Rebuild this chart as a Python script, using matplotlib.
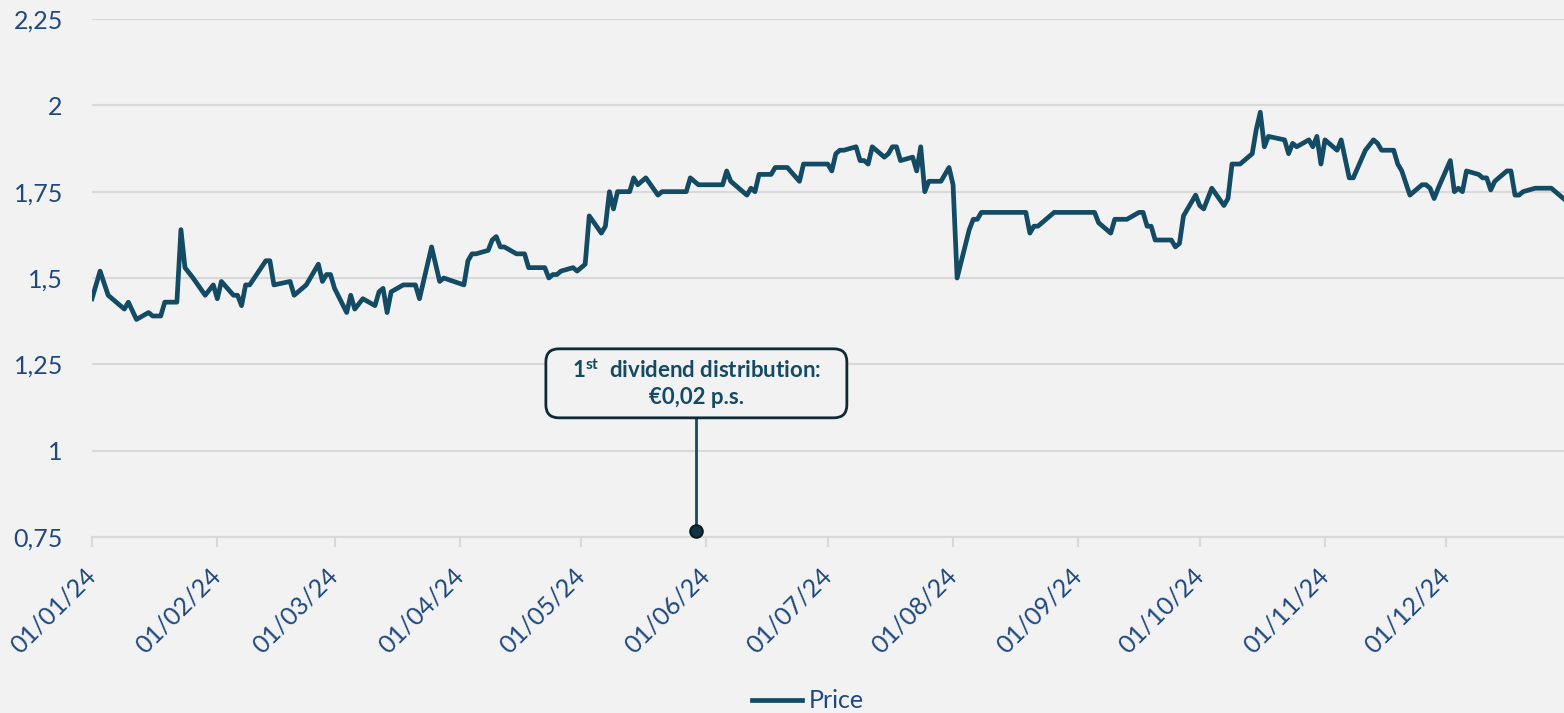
import matplotlib
matplotlib.use("Agg")
import matplotlib.pyplot as plt
import matplotlib.dates as mdates
import matplotlib.transforms as mtransforms
from matplotlib.patches import FancyBboxPatch
from matplotlib.ticker import FuncFormatter, MultipleLocator
import pandas as pd

plt.rcParams["font.family"] = ["Lato", "DejaVu Sans"]
plt.rcParams["mathtext.fontset"] = "custom"
plt.rcParams["mathtext.rm"] = "Lato"
plt.rcParams["mathtext.bf"] = "Lato:bold"

# daily closing price
dates = [
    "2024-01-01", "2024-01-03", "2024-01-05", "2024-01-09", "2024-01-10", "2024-01-12",
    "2024-01-15", "2024-01-16", "2024-01-18", "2024-01-19", "2024-01-22", "2024-01-23",
    "2024-01-24", "2024-01-26", "2024-01-29", "2024-01-31", "2024-02-01", "2024-02-02",
    "2024-02-05", "2024-02-06", "2024-02-07", "2024-02-08", "2024-02-09", "2024-02-13",
    "2024-02-14", "2024-02-15", "2024-02-19", "2024-02-20", "2024-02-23", "2024-02-26",
    "2024-02-27", "2024-02-28", "2024-02-29", "2024-03-01", "2024-03-04", "2024-03-05",
    "2024-03-06", "2024-03-08", "2024-03-11", "2024-03-12", "2024-03-13", "2024-03-14",
    "2024-03-15", "2024-03-18", "2024-03-21", "2024-03-22", "2024-03-25", "2024-03-27",
    "2024-03-28", "2024-04-02", "2024-04-03", "2024-04-04", "2024-04-05", "2024-04-08",
    "2024-04-09", "2024-04-10", "2024-04-11", "2024-04-12", "2024-04-15", "2024-04-17",
    "2024-04-18", "2024-04-22", "2024-04-23", "2024-04-24", "2024-04-25", "2024-04-26",
    "2024-04-29", "2024-04-30", "2024-05-02", "2024-05-03", "2024-05-06", "2024-05-07",
    "2024-05-08", "2024-05-09", "2024-05-10", "2024-05-13", "2024-05-14", "2024-05-15",
    "2024-05-17", "2024-05-20", "2024-05-21", "2024-05-27", "2024-05-28", "2024-05-30",
    "2024-06-05", "2024-06-06", "2024-06-07", "2024-06-11", "2024-06-12", "2024-06-13",
    "2024-06-14", "2024-06-17", "2024-06-18", "2024-06-21", "2024-06-24", "2024-06-25",
    "2024-07-01", "2024-07-02", "2024-07-03", "2024-07-04", "2024-07-05", "2024-07-08",
    "2024-07-09", "2024-07-10", "2024-07-11", "2024-07-12", "2024-07-15", "2024-07-16",
    "2024-07-17", "2024-07-18", "2024-07-19", "2024-07-22", "2024-07-23", "2024-07-24",
    "2024-07-25", "2024-07-26", "2024-07-29", "2024-07-31", "2024-08-01", "2024-08-02",
    "2024-08-05", "2024-08-06", "2024-08-07", "2024-08-08", "2024-08-19", "2024-08-20",
    "2024-08-21", "2024-08-22", "2024-08-26", "2024-09-05", "2024-09-06", "2024-09-09",
    "2024-09-10", "2024-09-13", "2024-09-16", "2024-09-17", "2024-09-18", "2024-09-19",
    "2024-09-20", "2024-09-24", "2024-09-25", "2024-09-26", "2024-09-27", "2024-09-30",
    "2024-10-01", "2024-10-02", "2024-10-04", "2024-10-07", "2024-10-08", "2024-10-09",
    "2024-10-11", "2024-10-14", "2024-10-15", "2024-10-16", "2024-10-17", "2024-10-18",
    "2024-10-22", "2024-10-23", "2024-10-24", "2024-10-25", "2024-10-28", "2024-10-29",
    "2024-10-30", "2024-10-31", "2024-11-01", "2024-11-04", "2024-11-05", "2024-11-07",
    "2024-11-08", "2024-11-11", "2024-11-13", "2024-11-14", "2024-11-15", "2024-11-18",
    "2024-11-19", "2024-11-20", "2024-11-22", "2024-11-25", "2024-11-26", "2024-11-27",
    "2024-11-28", "2024-11-29", "2024-12-02", "2024-12-03", "2024-12-04", "2024-12-05",
    "2024-12-06", "2024-12-09", "2024-12-10", "2024-12-11", "2024-12-12", "2024-12-13",
    "2024-12-16", "2024-12-17", "2024-12-18", "2024-12-19", "2024-12-20", "2024-12-23",
    "2024-12-27", "2024-12-30",
]
price = [
    1.44, 1.52, 1.45, 1.41, 1.43, 1.38,
    1.40, 1.39, 1.39, 1.43, 1.43, 1.64,
    1.53, 1.50, 1.45, 1.48, 1.44, 1.49,
    1.45, 1.45, 1.42, 1.48, 1.48, 1.55,
    1.55, 1.48, 1.49, 1.45, 1.48, 1.54,
    1.49, 1.51, 1.51, 1.47, 1.40, 1.45,
    1.41, 1.44, 1.42, 1.46, 1.47, 1.40,
    1.46, 1.48, 1.48, 1.44, 1.59, 1.49,
    1.50, 1.48, 1.55, 1.57, 1.57, 1.58,
    1.61, 1.62, 1.59, 1.59, 1.57, 1.57,
    1.53, 1.53, 1.50, 1.51, 1.51, 1.52,
    1.53, 1.52, 1.54, 1.68, 1.63, 1.65,
    1.75, 1.70, 1.75, 1.75, 1.79, 1.77,
    1.79, 1.74, 1.75, 1.75, 1.79, 1.77,
    1.77, 1.81, 1.78, 1.74, 1.76, 1.75,
    1.80, 1.80, 1.82, 1.82, 1.78, 1.83,
    1.83, 1.81, 1.86, 1.87, 1.87, 1.88,
    1.84, 1.84, 1.83, 1.88, 1.85, 1.86,
    1.88, 1.88, 1.84, 1.85, 1.81, 1.88,
    1.75, 1.78, 1.78, 1.82, 1.77, 1.50,
    1.64, 1.67, 1.67, 1.69, 1.69, 1.63,
    1.65, 1.65, 1.69, 1.69, 1.66, 1.63,
    1.67, 1.67, 1.69, 1.69, 1.65, 1.65,
    1.61, 1.61, 1.59, 1.60, 1.68, 1.74,
    1.71, 1.70, 1.76, 1.71, 1.73, 1.83,
    1.83, 1.86, 1.93, 1.98, 1.88, 1.91,
    1.90, 1.86, 1.89, 1.88, 1.90, 1.88,
    1.91, 1.83, 1.90, 1.87, 1.90, 1.79,
    1.79, 1.87, 1.90, 1.89, 1.87, 1.87,
    1.83, 1.81, 1.74, 1.77, 1.77, 1.76,
    1.73, 1.76, 1.84, 1.75, 1.76, 1.75,
    1.81, 1.80, 1.79, 1.79, 1.755, 1.78,
    1.81, 1.81, 1.74, 1.74, 1.75, 1.76,
    1.76, 1.73,
]

dividend_date = "2024-05-29 12:00"
dividend_text = "1$^{\\mathbf{st}}$  dividend distribution:\n€0,02 p.s."

LINE = "#124B63"
LABEL = "#1F497D"
GRID = "#D9D9D9"
BG = "#F2F2F2"

x = pd.to_datetime(dates)

fig = plt.figure(figsize=(15.64, 7.13), dpi=100, facecolor=BG)
ax = fig.add_axes([92 / 1564, 1 - 537 / 713, 1 - 92 / 1564, (537 - 19) / 713])
ax.set_facecolor(BG)

ax.plot(x, price, color=LINE, lw=3.4, label="Price", solid_joinstyle="round", zorder=3)

ax.set_ylim(0.75, 2.25)
ax.set_xlim(pd.Timestamp("2024-01-01"), pd.Timestamp("2024-12-30 03:00"))
ax.yaxis.set_major_locator(MultipleLocator(0.25))
ax.yaxis.set_major_formatter(FuncFormatter(lambda v, p: f"{v:g}".replace(".", ",")))
ax.xaxis.set_major_locator(mdates.MonthLocator())
ax.xaxis.set_major_formatter(mdates.DateFormatter("%d/%m/%y"))

ax.grid(axis="y", color=GRID, lw=1.5, zorder=0)
for s in ["top", "right", "left"]:
    ax.spines[s].set_visible(False)
ax.spines["bottom"].set_color(GRID)
ax.spines["bottom"].set_linewidth(1.5)
ax.tick_params(axis="y", length=0, pad=21, labelsize=18, labelcolor=LABEL)
ax.tick_params(axis="x", length=7, width=1.5, color=GRID, pad=12,
               labelsize=18, labelcolor=LABEL)
offset = mtransforms.ScaledTranslation(8 / 100, 0, fig.dpi_scale_trans)
for lab in ax.get_xticklabels():
    lab.set_rotation(45)
    lab.set_ha("right")
    lab.set_va("top")
    lab.set_transform(lab.get_transform() + offset)

# dividend annotation: text, rounded box around it, stem down to a dot
d = pd.Timestamp(dividend_date)
txt = ax.text(d, 1.195, dividend_text, ha="center", va="center", fontsize=16,
              fontweight="bold", color=LINE, linespacing=1.3, zorder=7)
fig.canvas.draw()
bb = txt.get_window_extent()
cx, cy = (bb.x0 + bb.x1) / 2, (bb.y0 + bb.y1) / 2
bw, bh = 301, 69
box = FancyBboxPatch((cx - bw / 2, cy - bh / 2), bw, bh,
                     boxstyle="round,pad=0,rounding_size=13",
                     fc=BG, ec="#0E2A35", lw=2, transform=None, zorder=6)
box.set_clip_on(False)
ax.add_artist(box)
ax.plot([d, d], [0.767, 1.195], color=LINE, lw=2, zorder=4)
ax.plot([d], [0.767], marker="o", ms=9, mfc="#0E3446", mec="#0A1A22", mew=1.5,
        clip_on=False, zorder=6)

leg = fig.legend(loc="center", bbox_to_anchor=(808 / 1564, 1 - 701 / 713), frameon=False,
                 fontsize=18, handlelength=2.0, handletextpad=0.3, borderpad=0)
for t in leg.get_texts():
    t.set_color(LABEL)

fig.savefig("out.png", dpi=100, facecolor=BG)
